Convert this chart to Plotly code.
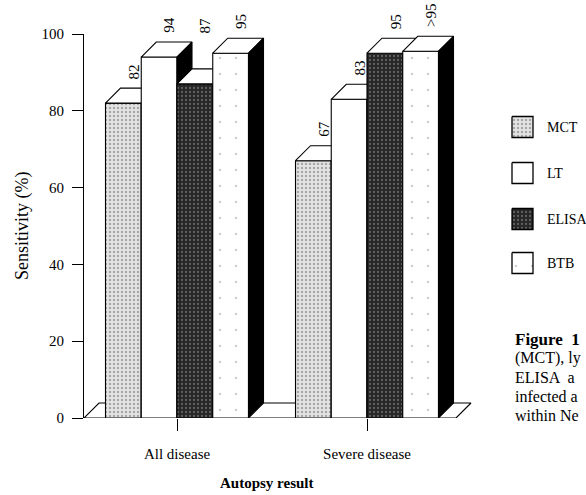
import plotly.graph_objects as go

# ---------------- data ----------------
categories = ["All disease", "Severe disease"]
series_names = ["MCT", "LT", "ELISA", "BTB"]
mct_values = [82, 67]
lt_values = [94, 83]
elisa_values = [87, 95]
btb_values = [95, 95.5]
mct_labels = ["82", "67"]
lt_labels = ["94", "83"]
elisa_labels = ["87", "95"]
btb_labels = ["95", ">95"]
y_ticks = [0, 20, 40, 60, 80, 100]
caption_lines = ["(MCT), ly", "ELISA  a", "infected a", "within Ne"]

values = [mct_values, lt_values, elisa_values, btb_values]
labels = [mct_labels, lt_labels, elisa_labels, btb_labels]

# ---------------- styles ----------------
FONT = "Liberation Serif"
W, H = 586, 495
L, T, B = 84, 34, 418          # plot area pixels (left, top, bottom)
XR = 476                        # right end of the bar axis (px)
PXU = 190.0                     # px per category unit
X0PX = 177.0                    # px of first category
PYU = (B - T) / 100.0           # px per y unit
BAR_W = 35.75 / PXU
DX = 15 / PXU                   # depth offset (x units)
DY = 15 / PYU                   # depth offset (y units)
YMAX = 100.0

styles = {
    "MCT": dict(shape=".", fgcolor="#6a6a6a", bgcolor="#e4e4e4", size=4, solidity=0.3),
    "LT": None,
    "ELISA": dict(shape=".", fgcolor="#9a9a9a", bgcolor="#262626", size=4, solidity=0.25),
    "BTB": dict(shape=".", fgcolor="#9a9a9a", bgcolor="#ffffff", size=16, solidity=0.02),
}


def paper_x(px):
    return (px - L) / (W - L)


def paper_y(py):
    return (B - py) / (B - T)


xmin = (L - X0PX) / PXU
xmax = (XR - X0PX) / PXU
dom_right = (XR - L) / (W - L)


def data_to_paper_x(x):
    return (x - xmin) / (xmax - xmin) * dom_right


def data_to_paper_y(y):
    return y / YMAX


fig = go.Figure()


def poly(xs, ys, pattern=None, fill="#ffffff", xa="x", ya="y", lw=1.1):
    kw = dict(x=xs, y=ys, mode="lines", fill="toself", fillcolor=fill,
              line=dict(color="black", width=lw), hoverinfo="skip",
              showlegend=False, xaxis=xa, yaxis=ya)
    if pattern:
        kw["fillpattern"] = pattern
        kw["fillcolor"] = pattern["bgcolor"]
    fig.add_trace(go.Scatter(**kw))


# floor (3D base)
floor_right = (456 - X0PX) / PXU
poly([xmin, floor_right, floor_right + DX, xmin + DX, xmin],
     [0, 0, DY, DY, 0])

n = len(series_names)
for gi, cat in enumerate(categories):
    start = gi - n * BAR_W / 2
    for si, name in enumerate(series_names):
        v = values[si][gi]
        x0 = start + si * BAR_W
        x1 = x0 + BAR_W
        # front face
        poly([x0, x1, x1, x0, x0], [0, 0, v, v, 0], pattern=styles[name])
        # top face
        poly([x0, x1, x1 + DX, x0 + DX, x0], [v, v, v + DY, v + DY, v])
        # right side face
        poly([x1, x1 + DX, x1 + DX, x1, x1], [0, DY, v + DY, v, 0], fill="#000000")

# value labels (rotated), positioned via the axis mapping
annotations = []
for gi in range(len(categories)):
    start = gi - n * BAR_W / 2
    for si in range(n):
        v = values[si][gi]
        ref = v if si == 0 else max(v, values[si - 1][gi])
        xc = start + si * BAR_W + BAR_W / 2 + DX / 2 + 3 / PXU
        annotations.append(dict(x=data_to_paper_x(xc), y=data_to_paper_y(ref + DY + 1.8),
                                xref="paper", yref="paper",
                                text=labels[si][gi], showarrow=False, textangle=-90,
                                xanchor="center", yanchor="bottom",
                                font=dict(family=FONT, size=15, color="black")))

# legend drawn in a small side axis (pixel units)
leg_y = [127, 173, 219, 263]
for si, name in enumerate(series_names):
    cy = leg_y[si]
    poly([512, 533, 533, 512, 512], [cy - 10.5, cy - 10.5, cy + 10.5, cy + 10.5, cy - 10.5],
         pattern=styles[name], xa="x2", ya="y2", lw=1.3)
    annotations.append(dict(x=paper_x(545), y=paper_y(cy), xref="paper", yref="paper",
                            text=name, showarrow=False,
                            xanchor="left", yanchor="middle",
                            font=dict(family=FONT, size=14, color="black")))

# caption fragment
annotations.append(dict(x=paper_x(513), y=paper_y(339), xref="paper", yref="paper",
                        text="<b>Figure  1</b>", showarrow=False, xanchor="left",
                        yanchor="middle", font=dict(family=FONT, size=17, color="black")))
for i, line in enumerate(caption_lines):
    annotations.append(dict(x=paper_x(513), y=paper_y(358 + 19 * i), xref="paper", yref="paper",
                            text=line, showarrow=False, xanchor="left", yanchor="middle",
                            font=dict(family=FONT, size=16, color="black")))

# axis titles
annotations.append(dict(x=paper_x(22), y=paper_y(226), xref="paper", yref="paper",
                        text="Sensitivity (%)", showarrow=False, textangle=-90,
                        xanchor="center", yanchor="middle",
                        font=dict(family=FONT, size=18, color="black")))
annotations.append(dict(x=paper_x(267), y=paper_y(483), xref="paper", yref="paper",
                        text="<b>Autopsy result</b>", showarrow=False,
                        xanchor="center", yanchor="middle",
                        font=dict(family=FONT, size=15, color="black")))

fig.update_layout(
    width=W, height=H,
    margin=dict(l=L, r=0, t=T, b=H - B, pad=0),
    paper_bgcolor="white", plot_bgcolor="white",
    showlegend=False,
    font=dict(family=FONT, size=14, color="black"),
    xaxis=dict(domain=[0, dom_right], range=[xmin, xmax], showline=False, showgrid=False,
               zeroline=False, tickmode="array", tickvals=list(range(len(categories))),
               ticktext=categories, ticks="outside", ticklen=12, tickwidth=1,
               tickcolor="black", ticklabelstandoff=10,
               tickfont=dict(family=FONT, size=15, color="black"), fixedrange=True),
    yaxis=dict(range=[0, YMAX], showline=True, linecolor="black", linewidth=1.2,
               showgrid=False, zeroline=False, tickmode="array", tickvals=y_ticks,
               ticks="outside", ticklen=11, tickwidth=1.2, tickcolor="black",
               ticklabelstandoff=5, tickfont=dict(family=FONT, size=15, color="black"),
               fixedrange=True),
    xaxis2=dict(domain=[dom_right, 1], range=[XR, W], visible=False, fixedrange=True),
    yaxis2=dict(domain=[0, 1], range=[B, T], visible=False, anchor="x2", fixedrange=True),
    annotations=annotations,
)

fig.write_html("out.html")
